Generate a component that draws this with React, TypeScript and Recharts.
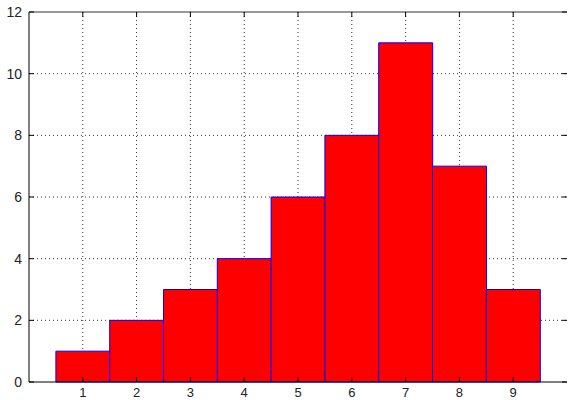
import { ComposedChart, Bar, Line, XAxis, YAxis, CartesianGrid, ReferenceLine } from "recharts";

const bins = ["1", "2", "3", "4", "5", "6", "7", "8", "9"];
const counts = [1, 2, 3, 4, 6, 8, 11, 7, 3];
const yTicks = [0, 2, 4, 6, 8, 10, 12];
const yGrid = [2, 4, 6, 8, 10];

const data = bins.map((bin, i) => ({ bin, count: counts[i] }));

const FONT = "'Liberation Sans', Arial, sans-serif";
const AXIS = "#000";

const BottomTick = ({ x, y, payload }: any) => (
  <g>
    <line x1={x} x2={x} y1={y} y2={y - 5} stroke={AXIS} />
    <text x={x} y={y + 15} textAnchor="middle" fontSize={13} fontFamily={FONT} fill="#222">
      {payload.value}
    </text>
  </g>
);

const TopTick = ({ x, y }: any) => <line x1={x} x2={x} y1={y} y2={y + 5} stroke={AXIS} />;

const LeftTick = ({ x, y, payload }: any) => (
  <g>
    <line x1={x} x2={x + 5} y1={y} y2={y} stroke={AXIS} />
    <text x={x - 7} y={y} dy="0.36em" textAnchor="end" fontSize={14} fontFamily={FONT} fill="#222">
      {payload.value}
    </text>
  </g>
);

const RightTick = ({ x, y }: any) => <line x1={x} x2={x - 5} y1={y} y2={y} stroke={AXIS} />;

export default function App() {
  return (
    <div style={{ position: "absolute", left: 0, top: 0, background: "#fff" }}>
      <ComposedChart
        width={568}
        height={400}
        data={data}
        margin={{ top: 11, right: 0, bottom: 0, left: 0 }}
        barCategoryGap={0}
        barGap={0}
      >
        <CartesianGrid strokeDasharray="1 3" stroke="#333" verticalValues={bins} horizontalValues={yGrid} />
        <XAxis
          dataKey="bin"
          height={18}
          padding={{ left: 26.9, right: 26.9 }}
          tickSize={0}
          tickMargin={0}
          tickLine={false}
          axisLine={{ stroke: AXIS }}
          tick={<BottomTick />}
          interval={0}
        />
        <XAxis
          xAxisId="top"
          orientation="top"
          dataKey="bin"
          height={1}
          padding={{ left: 26.9, right: 26.9 }}
          tickSize={0}
          tickMargin={0}
          tickLine={false}
          axisLine={false}
          tick={<TopTick />}
          interval={0}
        />
        <YAxis
          width={29}
          domain={[0, 12]}
          ticks={yTicks}
          tickSize={0}
          tickMargin={0}
          tickLine={false}
          axisLine={{ stroke: AXIS }}
          tick={<LeftTick />}
          interval={0}
        />
        <YAxis
          yAxisId="right"
          orientation="right"
          width={1}
          domain={[0, 12]}
          ticks={yTicks}
          tickSize={0}
          tickMargin={0}
          tickLine={false}
          axisLine={false}
          tick={<RightTick />}
          interval={0}
        />
        <ReferenceLine y={12} stroke="#333" strokeWidth={1} ifOverflow="visible" />
        <Bar dataKey="count" fill="#ff0000" stroke="#0000ff" strokeWidth={1} isAnimationActive={false} />
        <Line
          xAxisId="top"
          yAxisId="right"
          dataKey="count"
          stroke="none"
          dot={false}
          activeDot={false}
          isAnimationActive={false}
        />
      </ComposedChart>
    </div>
  );
}
